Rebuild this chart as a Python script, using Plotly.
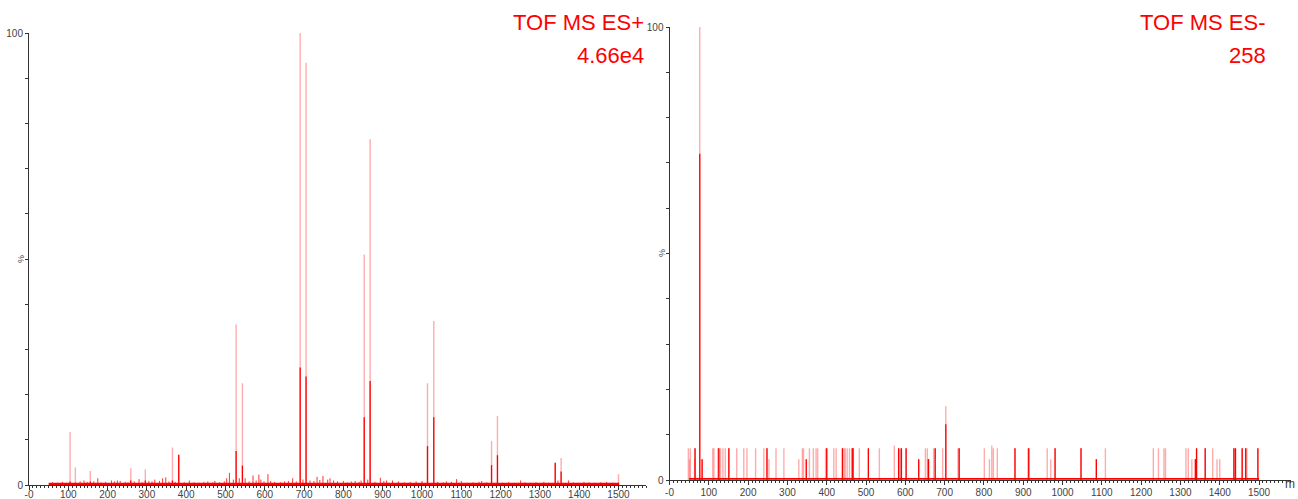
import plotly.graph_objects as go

W, H = 1298, 499

# ---------------- data: TOF MS ES+ ----------------
pos_mz   = [104.5, 118, 156, 259, 296, 365, 381, 527, 543, 690, 705, 853, 868, 1014, 1030, 1177, 1192, 1339, 1354, 1500]
pos_int  = [11.7, 3.9, 3.1, 3.7, 3.5, 8.3, 6.7, 35.5, 22.5, 100, 93.4, 51, 76.5, 22.5, 36.3, 9.7, 15.3, 4.9, 6.0, 2.4]
pos_core = [0.8, 0.5, 0.8, 1.0, 1.0, 1.0, 6.7, 7.5, 4.3, 26, 24, 15, 23, 8.6, 15, 4.4, 6.6, 4.9, 3.0, 0.5]

pos_noise_mz = [60, 72, 85, 95, 130, 140, 148, 165, 175, 183, 195, 210, 218, 225, 232, 245, 252, 268, 280, 288,
                305, 313, 320, 332, 340, 348, 356, 372, 395, 408, 420, 432, 445, 455, 468, 473, 485, 497, 503, 510,
                520, 535, 550, 560, 570, 578, 585, 590, 598, 608, 615, 625, 640, 650, 660, 671, 680, 697, 715, 725,
                733, 740, 748, 760, 766, 775, 785, 800, 810, 820, 830, 840, 845, 862, 880, 894, 903, 910, 925, 940,
                955, 970, 985, 1000, 1040, 1055, 1062, 1075, 1088, 1100, 1115, 1130, 1145, 1152, 1165, 1205, 1220,
                1235, 1251, 1262, 1275, 1290, 1310, 1322, 1346, 1373, 1385, 1398, 1412, 1425, 1440, 1455, 1470, 1485]
pos_noise_int = [0.6, 0.5, 0.7, 0.5, 0.8, 1.0, 0.7, 0.8, 1.5, 0.6, 0.7, 1.0, 0.8, 1.0, 0.9, 0.7, 0.6, 0.8, 1.3, 0.6,
                 0.9, 0.8, 1.2, 0.9, 1.5, 1.7, 0.8, 0.7, 0.6, 1.0, 0.6, 0.5, 0.7, 0.8, 0.6, 0.9, 0.6, 0.8, 1.5, 2.7,
                 1.2, 1.5, 1.5, 0.8, 2.1, 1.0, 2.3, 1.2, 0.8, 2.4, 0.9, 0.7, 0.6, 0.8, 0.9, 1.5, 0.8, 1.2, 1.0, 0.9,
                 1.8, 1.1, 2.0, 1.2, 1.5, 1.0, 0.8, 0.9, 0.6, 0.8, 0.9, 0.7, 1.0, 1.2, 0.7, 1.6, 0.9, 1.0, 1.0, 0.8,
                 0.6, 0.7, 0.8, 0.9, 0.7, 0.6, 0.8, 0.7, 1.3, 0.9, 0.5, 0.6, 0.7, 0.9, 0.6, 0.5, 0.6,
                 0.5, 1.0, 0.6, 0.5, 0.6, 0.7, 0.5, 1.0, 1.0, 0.6, 0.5, 0.7, 0.6, 0.5, 0.6, 0.7, 0.5]

# ---------------- data: TOF MS ES- ----------------
neg_mz  = [48, 53, 65, 77, 110, 113, 123, 125.5, 130, 136, 142, 151, 171, 189, 197, 219, 240, 248, 271, 291,
           338, 341, 356, 366, 373, 377, 397, 400, 418, 424, 440, 444, 447, 452, 458, 465, 467, 483, 506, 534,
           572, 583, 587, 590, 602, 651, 656, 672, 676, 695, 703, 734, 737, 801, 820, 824, 834, 879, 912, 914,
           961, 981, 1047, 1109, 1231, 1244, 1258, 1262, 1314, 1320, 1341, 1363, 1382, 1436, 1440, 1457, 1466,
           1469, 1497,
           51, 64, 83, 253, 329, 348, 634, 658, 659, 814, 970, 1086, 1329, 1338, 1393, 1400]
neg_int = [7, 7, 7, 100, 7, 7, 7, 7, 7, 7, 7, 7, 7, 7, 7, 7, 7, 7, 7, 7,
           7, 7, 7, 7, 7, 7, 7, 7, 7, 7, 7, 7, 7, 7, 7, 7, 7, 7, 7, 7,
           7.6, 7, 7, 7, 7, 7, 7, 7, 7, 7, 16.3, 7, 7, 7, 7.6, 7, 7, 7, 7, 7,
           7, 7, 7, 7, 7, 7, 7, 7, 7, 7, 7, 7, 7, 7, 7, 7, 7,
           7, 7,
           4.6, 4.6, 4.6, 4.6, 4.6, 4.6, 4.6, 4.6, 4.6, 4.6, 4.6, 4.6, 4.6, 4.6, 4.6, 4.6]
neg_core = [0, 0, 7, 72, 0, 0, 0, 7, 0, 0, 0, 7, 0, 0, 0, 0, 0, 7, 0, 0,
            0, 0, 0, 0, 0, 0, 0, 7, 0, 0, 7, 0, 0, 0, 0, 7, 7, 0, 7, 0,
            0, 7, 0, 7, 7, 0, 0, 0, 7, 0, 12.3, 0, 7, 0, 0, 0, 0, 7, 0, 7,
            0, 7, 7, 0, 0, 0, 0, 0, 0, 0, 7, 7, 0, 7, 7, 7, 7,
            0, 7,
            0, 0, 4.6, 0, 0, 4.6, 4.6, 0, 4.6, 0, 0, 4.6, 0, 4.6, 0, 0]

baseline_range = [50, 1500]

title_pos = ["TOF MS ES+", "4.66e4"]
title_neg = ["TOF MS ES-", "258"]

x_ticks = list(range(0, 1600, 100))
x_ticktext = ["-0"] + [str(v) for v in x_ticks[1:]]
y_ticks = list(range(0, 101, 10))
y_ticktext = ["0"] + [""] * 9 + ["100"]

PINK = "rgba(255,0,0,0.33)"
RED = "#ff0000"


def sticks(mz, h):
    xs, ys = [], []
    for m, v in zip(mz, h):
        if v <= 0:
            continue
        xs += [m, m, None]
        ys += [0, v, None]
    return xs, ys


fig = go.Figure()


def add_panel(xa, ya, mz, inten, core, nmz=None, nint=None):
    xs, ys = sticks(mz, inten)
    fig.add_trace(go.Scatter(x=xs, y=ys, mode="lines", line=dict(color=PINK, width=1.4),
                             xaxis=xa, yaxis=ya, hoverinfo="skip", showlegend=False))
    xs, ys = sticks(mz, core)
    fig.add_trace(go.Scatter(x=xs, y=ys, mode="lines", line=dict(color=RED, width=1.3),
                             xaxis=xa, yaxis=ya, hoverinfo="skip", showlegend=False))
    if nmz is not None:
        xs, ys = sticks(nmz, nint)
        fig.add_trace(go.Scatter(x=xs, y=ys, mode="lines", line=dict(color=RED, width=1),
                                 opacity=0.8, xaxis=xa, yaxis=ya, hoverinfo="skip", showlegend=False))
    fig.add_trace(go.Scatter(x=baseline_range, y=[0.25, 0.25], mode="lines",
                             line=dict(color=RED, width=2.2 if nmz is not None else 1.6),
                             xaxis=xa, yaxis=ya, hoverinfo="skip", showlegend=False))


add_panel("x", "y", pos_mz, pos_int, pos_core, pos_noise_mz, pos_noise_int)
add_panel("x2", "y2", neg_mz, neg_int, neg_core)


def px_x(p):
    return p / W


def px_y(p):
    return 1 - p / H


axis_common = dict(showgrid=False, zeroline=False, showline=True, linecolor="#333", linewidth=1,
                   ticks="outside", tickcolor="#333", automargin=False,
                   tickfont=dict(family="Liberation Sans, Arial", size=10, color="#444"),
                   fixedrange=True)

xcommon = dict(axis_common, tickvals=x_ticks, ticktext=x_ticktext, ticklen=4, tickwidth=1,
               minor=dict(dtick=10, tick0=0, ticks="outside", ticklen=2, tickcolor="#333", tickwidth=1))
ycommon = dict(axis_common, tickvals=y_ticks, ticktext=y_ticktext, ticklen=3, range=[0, 100])

fig.update_layout(
    width=W, height=H,
    margin=dict(l=0, r=0, t=0, b=0, pad=0, autoexpand=False),
    paper_bgcolor="white", plot_bgcolor="white",
    xaxis=dict(xcommon, domain=[px_x(29), px_x(646)], range=[0, 1570], anchor="y", ticklabelstandoff=-4),
    yaxis=dict(ycommon, domain=[px_y(485), px_y(33)], anchor="x"),
    xaxis2=dict(xcommon, domain=[px_x(669.5), px_x(1290.5)], range=[0, 1580], anchor="y2", ticklabelstandoff=-1),
    yaxis2=dict(ycommon, domain=[px_y(480), px_y(27)], anchor="x2"),
)

tfont = dict(family="Liberation Sans, Arial", size=22, color="#ff0000")
ann = [
    dict(x=px_x(646), y=px_y(8), text=title_pos[0], xanchor="right", yanchor="top"),
    dict(x=px_x(646), y=px_y(41), text=title_pos[1], xanchor="right", yanchor="top"),
    dict(x=px_x(1268), y=px_y(8), text=title_neg[0], xanchor="right", yanchor="top"),
    dict(x=px_x(1268), y=px_y(41), text=title_neg[1], xanchor="right", yanchor="top"),
]
for a in ann:
    fig.add_annotation(xref="paper", yref="paper", showarrow=False, font=tfont, **a)

small = dict(family="Liberation Sans, Arial", size=9, color="#444")
fig.add_annotation(xref="paper", yref="paper", x=px_x(21), y=px_y(259), text="%", textangle=-90,
                   showarrow=False, font=small, xanchor="center", yanchor="middle")
fig.add_annotation(xref="paper", yref="paper", x=px_x(662), y=px_y(253), text="%", textangle=-90,
                   showarrow=False, font=small, xanchor="center", yanchor="middle")
fig.add_annotation(xref="paper", yref="paper", x=px_x(1297), y=px_y(484), text="m",
                   showarrow=False, font=dict(family="Liberation Sans, Arial", size=12, color="#444"),
                   xanchor="right", yanchor="middle")

fig.write_html("out.html")
